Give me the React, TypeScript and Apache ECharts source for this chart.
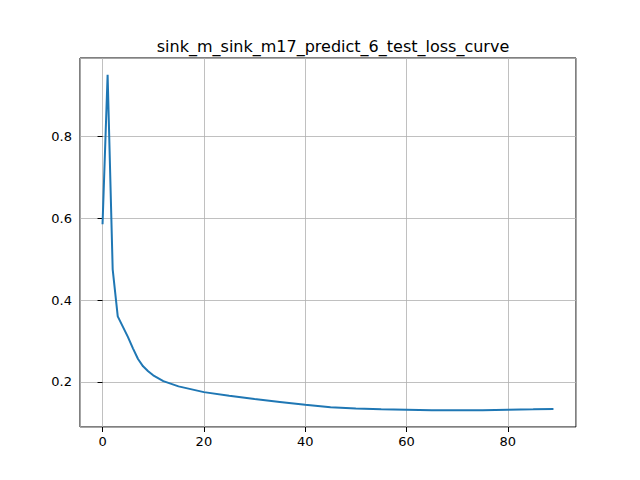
import React, { useEffect, useRef } from "react";
import * as echarts from "echarts";

const epochs = [0, 1, 2, 3, 4, 5, 6, 7, 8, 9, 10, 12, 15, 20, 25, 30, 35, 40, 45, 50, 55, 60, 65, 70, 75, 80, 85, 89];
const losses = [0.585, 0.95, 0.475, 0.36, 0.335, 0.31, 0.282, 0.256, 0.238, 0.226, 0.216, 0.202, 0.189, 0.175, 0.166, 0.158, 0.151, 0.144, 0.138, 0.135, 0.133, 0.132, 0.131, 0.131, 0.131, 0.132, 0.133, 0.134];
const titleText = "sink_m_sink_m17_predict_6_test_loss_curve";

export default function App() {
  const ref = useRef<HTMLDivElement>(null);
  useEffect(() => {
    const chart = echarts.init(ref.current!, null, { renderer: "svg" });
    const font = "DejaVu Sans";
    chart.setOption({
      animation: false,
      title: { text: titleText, left: 328, top: 33, textAlign: "center", textStyle: { fontFamily: font, fontSize: 16, fontWeight: "normal", color: "#000" } },
      grid: { left: 80, right: 64, top: 58, bottom: 53, show: true, borderColor: "#000", borderWidth: 1, backgroundColor: "transparent" },
      xAxis: {
        type: "value", min: -4.45, max: 93.45, splitNumber: 5,
        axisLine: { show: false },
        axisTick: { show: true, length: 5, inside: false, lineStyle: { color: "#000" } },
        axisLabel: { showMinLabel: false, showMaxLabel: false, fontFamily: font, fontSize: 13, color: "#000", margin: 8 },
        splitLine: { show: true, lineStyle: { color: "#b0b0b0", width: 0.8 } },
      },
      yAxis: {
        type: "value", min: 0.0898, max: 0.9912, splitNumber: 5,
        axisLine: { show: false },
        axisTick: { show: true, length: 5, lineStyle: { color: "#000" } },
        axisLabel: { showMinLabel: false, showMaxLabel: false, fontFamily: font, fontSize: 13, color: "#000", margin: 8, formatter: (v: number) => v.toFixed(1) },
        splitLine: { show: true, lineStyle: { color: "#b0b0b0", width: 0.8 } },
      },
      series: [{
        type: "line", data: epochs.map((e, i) => [e, losses[i]]), showSymbol: false,
        lineStyle: { color: "#1f77b4", width: 2 }, itemStyle: { color: "#1f77b4" },
      }],
    });
    return () => chart.dispose();
  }, []);
  return <div ref={ref} style={{ width: 640, height: 480, margin: -8 }} />;
}
